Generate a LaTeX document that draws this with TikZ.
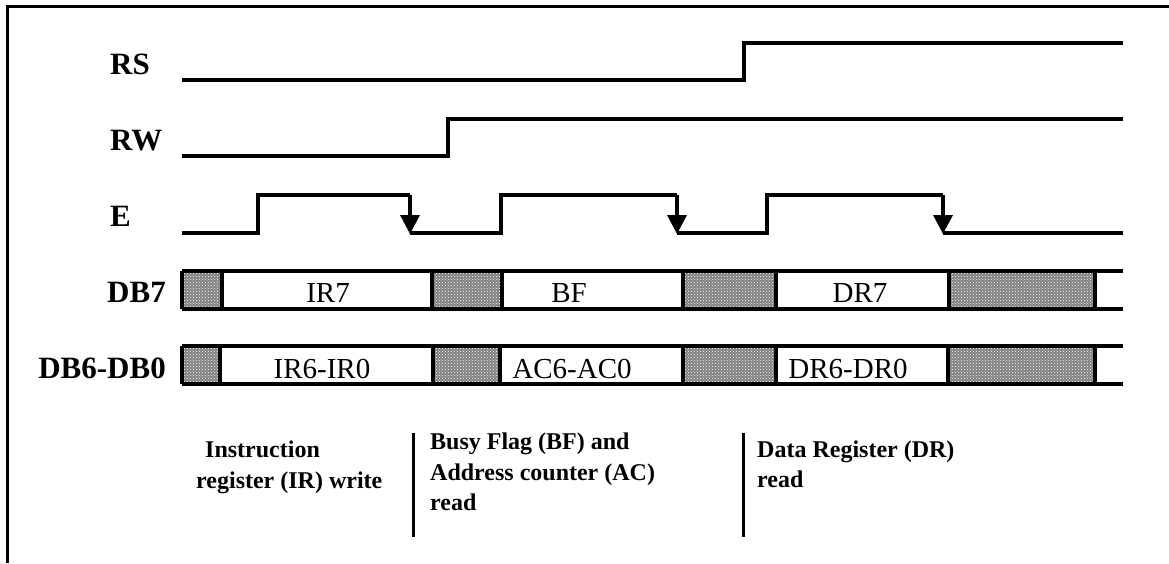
\documentclass[tikz,border=0pt]{standalone}
\usepackage{fontspec}
\setmainfont{Liberation Serif}
\usetikzlibrary{patterns,arrows.meta}
\begin{document}
\begin{tikzpicture}[x=1pt,y=-1pt,
  sig/.style={line width=3.5pt, line join=miter},
  fall/.style={line width=3.5pt, -{Triangle[width=19pt,length=19pt]}},
  lbl/.style={font=\fontsize{31}{36}\selectfont\bfseries, inner sep=0},
  val/.style={font=\fontsize{29}{34}\selectfont, inner sep=0, anchor=base},
  note/.style={font=\fontsize{24}{30}\selectfont\bfseries, inner sep=0, anchor=base west},
  hatch/.style={fill=black!50, postaction={pattern=crosshatch dots, pattern color=white}},
  busline/.style={line width=3.5pt},
  sep/.style={line width=3pt}
]
\useasboundingbox (0,0) rectangle (1169,563);
% frame
\draw[line width=3pt] (7,563) -- (7,6) -- (1169,6);

% labels
\node[lbl, anchor=base west] (lRS) at (110,74) {RS};
\node[lbl, anchor=base west] (lRW) at (110,150) {RW};
\node[lbl, anchor=base west] (lE) at (110,226) {E};
\node[lbl, anchor=base east] (lDB7) at (166,302) {DB7};
\node[lbl, anchor=base east] (lDB6) at (166,378) {DB6-DB0};

% RS
\draw[sig] (182,80) -- (744,80) -- (744,43) -- (1123,43);
% RW
\draw[sig] (182,156) -- (448,156) -- (448,119) -- (1123,119);
% E
\draw[sig] (182,233) -- (258,233) -- (258,195) -- (410,195);
\draw[fall] (410,195) -- (410,234);
\draw[sig] (410,233) -- (501,233) -- (501,195) -- (677,195);
\draw[fall] (677,195) -- (677,234);
\draw[sig] (677,233) -- (767,233) -- (767,195) -- (943,195);
\draw[fall] (943,195) -- (943,234);
\draw[sig] (943,233) -- (1123,233);

% DB7 bus
\foreach \a/\b in {182/222, 432/502, 683/776, 949/1095}
  \fill[hatch] (\a,271) rectangle (\b,309);
\draw[busline] (182,271) -- (1123,271);
\draw[busline] (182,309) -- (1123,309);
\foreach \x in {182,222,432,502,683,776,949,1095}
  \draw[busline] (\x,271) -- (\x,309);
\node[val] (ir7) at (328,302) {IR7};
\node[val] (bf) at (569,302) {BF};
\node[val] (dr7) at (860,302) {DR7};

% DB6-DB0 bus
\foreach \a/\b in {182/220, 433/500, 683/776, 948/1095}
  \fill[hatch] (\a,346) rectangle (\b,384);
\draw[busline] (182,346) -- (1123,346);
\draw[busline] (182,384) -- (1123,384);
\foreach \x in {182,220,433,500,683,776,948,1095}
  \draw[busline] (\x,346) -- (\x,384);
\node[val] (ir6) at (322,378) {IR6-IR0};
\node[val] (ac6) at (572,378) {AC6-AC0};
\node[val] (dr6) at (848,378) {DR6-DR0};

% separators
\draw[sep] (413,433) -- (413,537);
\draw[sep] (743,433) -- (743,537);

% notes
\node[note] (n1a) at (205,457) {Instruction};
\node[note] (n1b) at (196,488) {register (IR) write};
\node[note] (n2a) at (430,449) {Busy Flag (BF) and};
\node[note] (n2b) at (430,480) {Address counter (AC)};
\node[note] (n2c) at (430,510) {read};
\node[note] (n3a) at (757,457) {Data Register (DR)};
\node[note] (n3b) at (757,487) {read};
\end{tikzpicture}
\end{document}
